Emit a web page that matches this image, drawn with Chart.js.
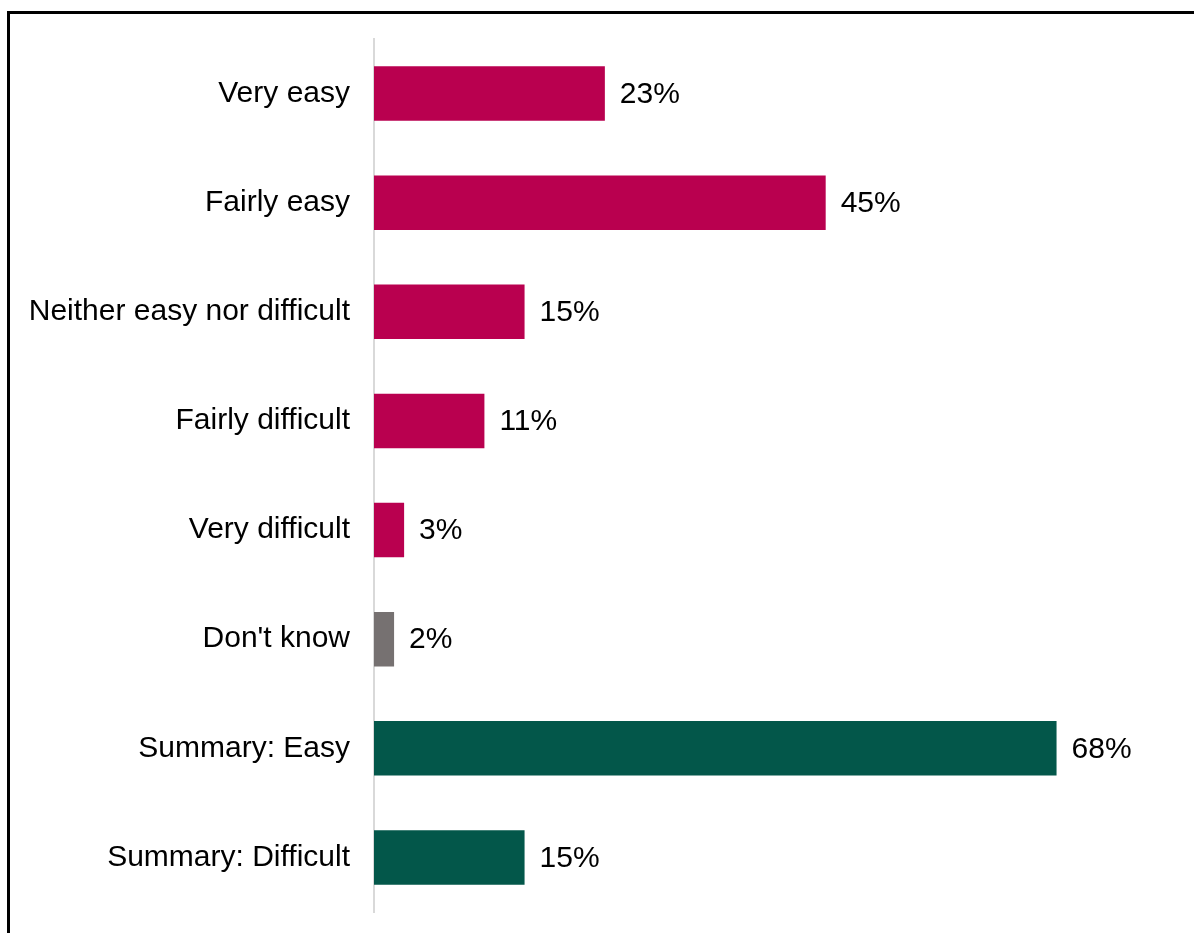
<!DOCTYPE html>
<html>
<head>
<meta charset="utf-8">
<script src="https://cdn.jsdelivr.net/npm/chart.js@4.4.1/dist/chart.umd.min.js"></script>
<style>
  html, body { margin: 0; padding: 0; background: #fff; }
  #wrap { position: relative; width: 1194px; height: 933px; overflow: hidden; }
  #frame { position: absolute; left: 7px; top: 11px; width: 1300px; height: 1000px;
           border-top: 3px solid #000; border-left: 3px solid #000; box-sizing: border-box; }
  #chart { position: absolute; left: 0; top: 0; }
</style>
</head>
<body>
<div id="wrap">
  <div id="frame"></div>
  <canvas id="chart" width="1194" height="933"></canvas>
</div>
<script>
// Survey responses: how easy or difficult it was
const categories = [
  "Very easy",
  "Fairly easy",
  "Neither easy nor difficult",
  "Fairly difficult",
  "Very difficult",
  "Don't know",
  "Summary: Easy",
  "Summary: Difficult"
];
const percentages = [23, 45, 15, 11, 3, 2, 68, 15];

// Bar fills: answer options, don't know, summary rows
const barColors = [
  "#B9004F", "#B9004F", "#B9004F", "#B9004F", "#B9004F",
  "#767171",
  "#03574A", "#03574A"
];

const FONT = "'Liberation Sans', Arial, Helvetica, sans-serif";
const FONT_SIZE = 30;

// Writes each bar's value just past its end
const valueLabels = {
  id: "valueLabels",
  afterDatasetsDraw(chart) {
    const { ctx } = chart;
    const meta = chart.getDatasetMeta(0);
    const values = chart.data.datasets[0].data;
    ctx.save();
    ctx.font = FONT_SIZE + "px " + FONT;
    ctx.fillStyle = "#000";
    ctx.textAlign = "left";
    ctx.textBaseline = "middle";
    meta.data.forEach((bar, i) => {
      ctx.fillText(values[i] + "%", bar.x + 15, bar.y + 1);
    });
    ctx.restore();
  }
};

new Chart(document.getElementById("chart"), {
  type: "bar",
  data: {
    labels: categories,
    datasets: [{
      data: percentages,
      backgroundColor: barColors,
      borderWidth: 0,
      barPercentage: 0.5,
      categoryPercentage: 1.0
    }]
  },
  options: {
    indexAxis: "y",
    responsive: false,
    animation: false,
    events: [],
    layout: { padding: { top: 39, bottom: 21, right: 17, left: 0 } },
    plugins: {
      legend: { display: false },
      tooltip: { enabled: false }
    },
    scales: {
      x: {
        display: false,
        min: 0,
        max: 80
      },
      y: {
        afterFit(scale) {
          scale.width = 374;
          scale.paddingTop = 0;
          scale.paddingBottom = 0;
        },
        grid: { display: false, drawTicks: false },
        border: { display: true, color: "#D9D9D9", width: 2 },
        ticks: {
          color: "#000",
          padding: 24,
          font: { family: FONT, size: FONT_SIZE }
        }
      }
    }
  },
  plugins: [valueLabels]
});
</script>
</body>
</html>
